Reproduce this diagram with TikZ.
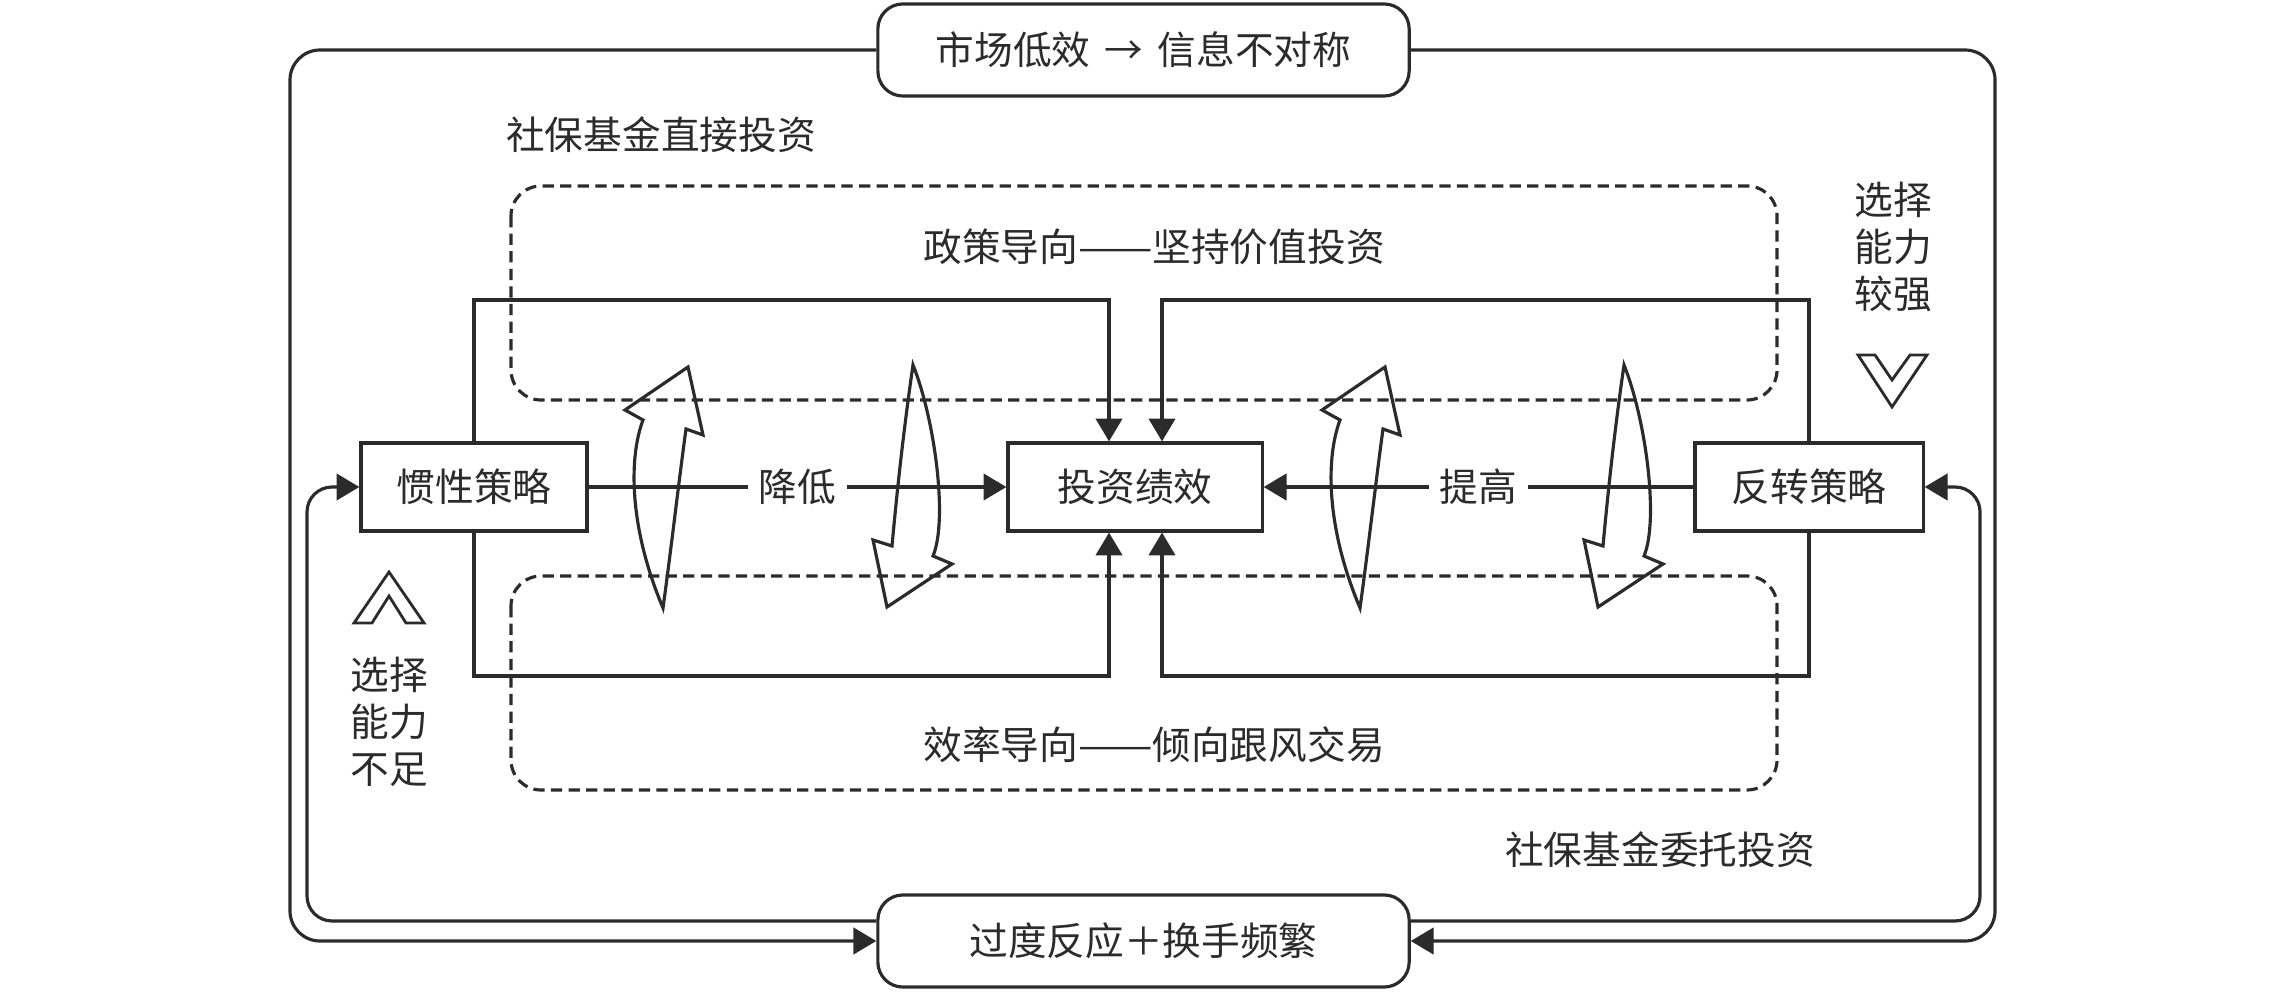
\documentclass[tikz,border=0pt]{standalone}
\usepackage{fontspec}
\usepackage{graphicx}
\setmainfont{Noto Sans CJK SC}
\usetikzlibrary{arrows.meta}
\definecolor{ink}{HTML}{2B2B2B}
\newcommand{\longdash}{\scalebox{1.15}[1]{——}}
\begin{document}
\begin{tikzpicture}[x=0.01cm, y=-0.01cm,
  box/.style={draw=ink, line width=0.9pt, minimum height=0.88cm, inner sep=0pt, text=ink, font=\fontsize{11}{13}\selectfont},
  rbox/.style={box, rounded corners=0.25cm, minimum width=5.31cm, minimum height=0.92cm},
  conn/.style={draw=ink, line width=0.9pt},
  arr/.style={conn, -{Triangle[length=6.5pt,width=7.5pt]}},
  dashbox/.style={draw=ink, line width=0.9pt, dash pattern=on 3.2pt off 1.8pt, rounded corners=0.3cm},
  lbl/.style={text=ink, align=center, font=\fontsize{11}{13.4}\selectfont},
  fat/.style={draw=ink, line width=0.9pt, line join=miter},
  chev/.style={draw=ink, line width=0.8pt, line join=miter}]
\useasboundingbox (0,0) rectangle (2283,992);

% dashed frames
\draw[dashbox] (511,186) rectangle (1777,400);
\draw[dashbox] (511,576) rectangle (1777,790);

% nodes
\node[rbox] (top) at (1143.5,50) {市场低效\hspace{0.15em} → \hspace{0.15em}信息不对称};
\node[rbox] (bot) at (1143.5,941) {过度反应＋换手频繁};
\node[box, minimum width=2.26cm] (inert) at (474,487) {惯性策略};
\node[box, minimum width=2.54cm] (perf) at (1135,487) {投资绩效};
\node[box, minimum width=2.28cm] (rev) at (1809,487) {反转策略};

\node[lbl] (t1) at (661,135) {社保基金直接投资};
\node[lbl] (t2) at (1660,850) {社保基金委托投资};
\node[lbl] (t3) at (1154,247) {政策导向\longdash 坚持价值投资};
\node[lbl] (t4) at (1154,745) {效率导向\longdash 倾向跟风交易};
\node[lbl] (t5) at (1893,247) {选择\\能力\\较强};
\node[lbl] (t6) at (389,722) {选择\\能力\\不足};

% connectors to performance
\coordinate (c1) at (1109,300);
\coordinate (c2) at (1109,676);
\coordinate (c3) at (1162,300);
\coordinate (c4) at (1162,676);
\draw[arr] (inert.north) |- (c1) -- (c1 |- perf.north);
\draw[arr] (inert.south) |- (c2) -- (c2 |- perf.south);
\draw[arr] (rev.north) |- (c3) -- (c3 |- perf.north);
\draw[arr] (rev.south) |- (c4) -- (c4 |- perf.south);
\draw[arr] (inert.east) -- node[lbl, fill=white, inner sep=3pt] (l1) {降低} (perf.west);
\draw[arr] (rev.west) -- node[lbl, fill=white, inner sep=3pt] (l2) {提高} (perf.east);

% outer loop
\coordinate (ol) at (290,941);
\coordinate (or) at (1995,941);
\coordinate (il) at (307,487);
\coordinate (ir) at (1980,487);
\draw[arr, rounded corners=0.3cm] (top.west) -| (ol) -- (bot.west);
\draw[arr, rounded corners=0.3cm] (top.east) -| (or) -- (bot.east);
\draw[arr, rounded corners=0.25cm] ([yshift=0.2cm]bot.west) -| (il) -- (inert.west);
\draw[arr, rounded corners=0.25cm] ([yshift=0.2cm]bot.east) -| (ir) -- (rev.east);

% fat curved arrows
\draw[fat] (663,608) .. controls (630,530) and (628,460) .. (643,420) -- (625,410) -- (688,367) -- (703,435) -- (686,429) .. controls (679,480) and (671,550) .. cycle;
\draw[fat] (1360,608) .. controls (1327,530) and (1325,460) .. (1340,420) -- (1322,410) -- (1385,367) -- (1400,435) -- (1383,429) .. controls (1376,480) and (1368,550) .. cycle;
\draw[fat] (913,365) .. controls (935,420) and (948,520) .. (933,556) -- (952,564) -- (887,607) -- (873,540) -- (892,546) .. controls (898,480) and (905,420) .. cycle;
\draw[fat] (1624,365) .. controls (1646,420) and (1659,520) .. (1644,556) -- (1663,564) -- (1598,607) -- (1584,540) -- (1603,546) .. controls (1609,480) and (1616,420) .. cycle;

% chevrons
\draw[chev] (1858,355) -- (1875,355) -- (1892,380) -- (1910,355) -- (1927,355) -- (1892,407) -- cycle;
\draw[chev] (389,572) -- (424,623) -- (406,623) -- (389,596) -- (372,623) -- (354,623) -- cycle;
\end{tikzpicture}
\end{document}
